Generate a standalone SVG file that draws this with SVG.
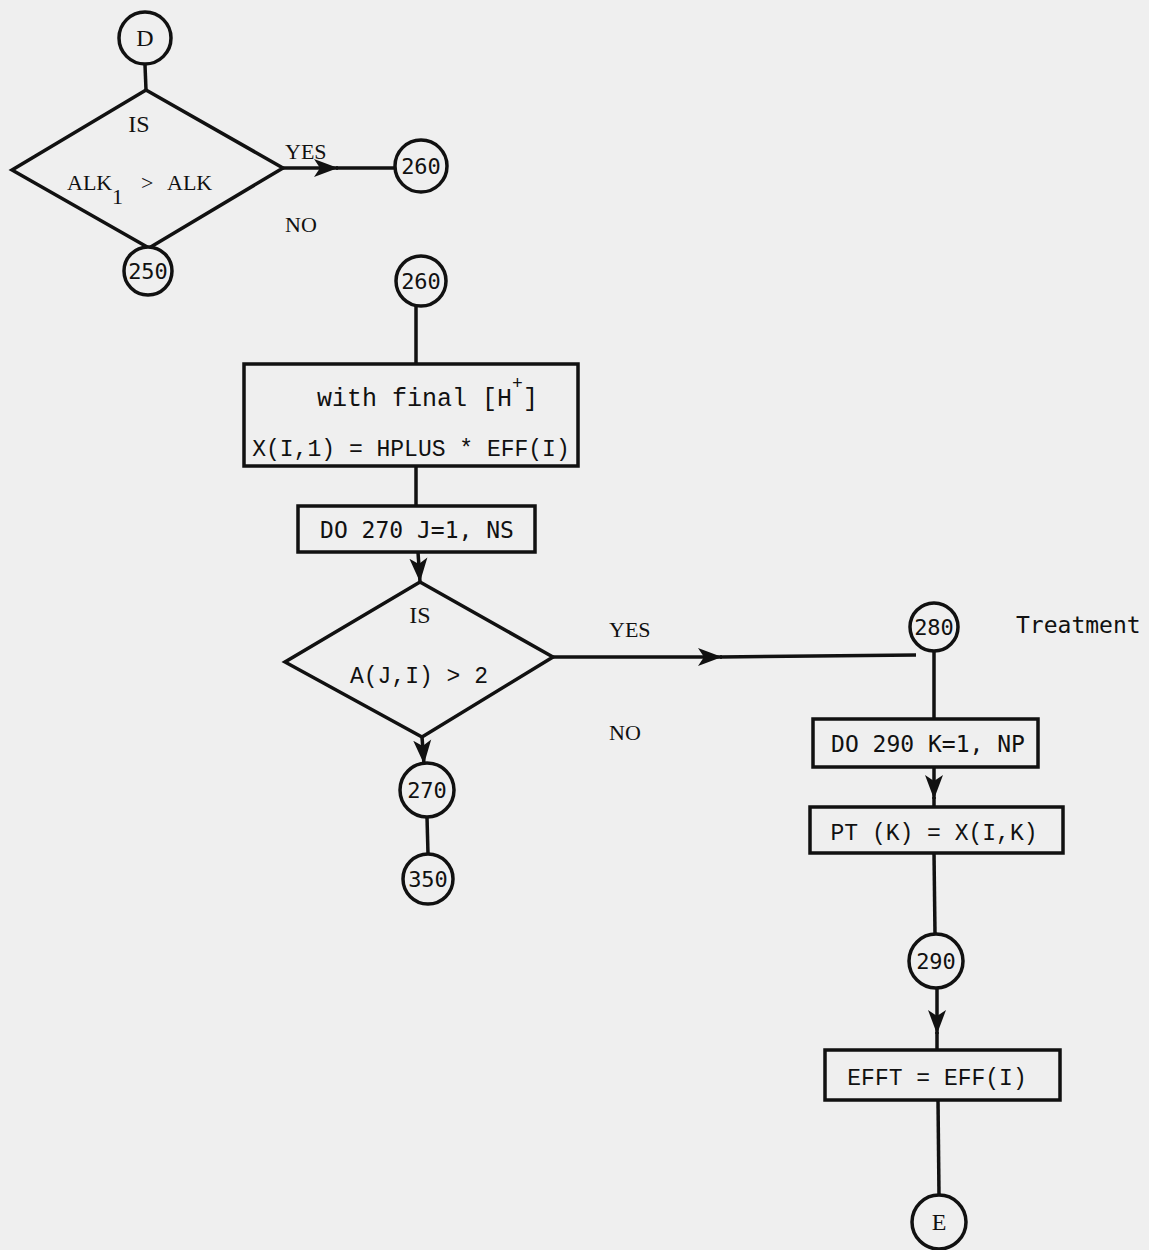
<svg xmlns="http://www.w3.org/2000/svg" width="1149" height="1250" viewBox="0 0 1149 1250">
<style>
.bg{fill:#efefef}
.s{fill:none;stroke:#111;stroke-width:3.5}
.n{fill:#efefef;stroke:#111;stroke-width:3.5}
.ser{font-family:"Liberation Serif","Times New Roman",serif;font-size:22px;fill:#111}
.mono{font-family:"Liberation Mono","Courier New",monospace;font-size:23px;fill:#111}
.sm{font-family:"DejaVu Sans Mono","Liberation Mono",monospace;font-size:23px;fill:#111}
.num{font-family:"DejaVu Sans Mono","Liberation Mono",monospace;font-size:22px;fill:#111;text-anchor:middle}
.c{text-anchor:middle}
</style>
<defs>
<marker id="ah" markerWidth="26" markerHeight="20" refX="24" refY="10" orient="auto" markerUnits="userSpaceOnUse">
<path d="M0,1 L24,10 L0,19 L6,10 Z" fill="#111"/>
</marker>
</defs>
<rect class="bg" x="0" y="0" width="1149" height="1250"/>
<g id="connectors">
<line class="s" x1="145" y1="65" x2="146" y2="90"/>
<line class="s" x1="283" y1="168" x2="338" y2="168" marker-end="url(#ah)"/>
<line class="s" x1="336" y1="168" x2="395" y2="168"/>
<line class="s" x1="416" y1="306" x2="416" y2="364"/>
<line class="s" x1="416" y1="466" x2="416" y2="506"/>
<line class="s" x1="418" y1="552" x2="420" y2="582" marker-end="url(#ah)"/>
<line class="s" x1="553" y1="657" x2="722" y2="657" marker-end="url(#ah)"/>
<line class="s" x1="720" y1="657" x2="916" y2="655"/>
<line class="s" x1="422" y1="737" x2="424" y2="764" marker-end="url(#ah)"/>
<line class="s" x1="427" y1="817" x2="428" y2="854"/>
<line class="s" x1="934" y1="651" x2="934" y2="719"/>
<line class="s" x1="934" y1="767" x2="934" y2="799" marker-end="url(#ah)"/>
<line class="s" x1="934" y1="797" x2="934" y2="807"/>
<line class="s" x1="934" y1="853" x2="935" y2="934"/>
<line class="s" x1="937" y1="988" x2="937" y2="1034" marker-end="url(#ah)"/>
<line class="s" x1="937" y1="1032" x2="937" y2="1050"/>
<line class="s" x1="938" y1="1100" x2="939" y2="1195"/>
</g>
<g id="nodeD"><circle class="n" cx="145" cy="38" r="26"/><text class="ser c" x="145" y="46" style="font-size:24px">D</text></g>
<g id="decision1">
<polygon class="n" points="146,90 283,168 149,248 12,170"/>
<text class="ser c" x="139" y="132" style="font-size:24px">IS</text>
<text class="ser" x="67" y="190">ALK</text>
<text class="ser" x="112" y="204">1</text>
<text class="ser" x="141" y="190">&gt;</text>
<text class="ser" x="167" y="190">ALK</text>
<text class="ser" x="285" y="159">YES</text>
<text class="ser" x="285" y="232">NO</text>
</g>
<g id="c260a"><circle class="n" cx="421" cy="166" r="26"/><text class="num" x="421" y="174">260</text></g>
<g id="c250"><circle class="n" cx="148" cy="271" r="24"/><text class="num" x="148" y="279">250</text></g>
<g id="c260b"><circle class="n" cx="421" cy="281" r="25"/><text class="num" x="421" y="289">260</text></g>
<g id="box1">
<rect class="n" x="244" y="364" width="334" height="102"/>
<text class="mono" x="317" y="406" style="font-size:25px">with final [H</text>
<text class="mono" x="512" y="389" style="font-size:18px">+</text>
<text class="mono" x="523" y="406" style="font-size:25px">]</text>
<text class="mono c" x="411" y="456">X(I,1) = HPLUS * EFF(I)</text>
</g>
<g id="box2">
<rect class="n" x="298" y="506" width="237" height="46"/>
<text class="sm c" x="417" y="538">DO 270 J=1, NS</text>
</g>
<g id="decision2">
<polygon class="n" points="420,582 553,657 422,737 285,662"/>
<text class="ser c" x="420" y="623" style="font-size:24px">IS</text>
<text class="mono c" x="419" y="683">A(J,I) &gt; 2</text>
<text class="ser" x="609" y="637">YES</text>
<text class="ser" x="609" y="740">NO</text>
</g>
<g id="c270"><circle class="n" cx="427" cy="790" r="27"/><text class="num" x="427" y="798">270</text></g>
<g id="c350"><circle class="n" cx="428" cy="879" r="25"/><text class="num" x="428" y="887">350</text></g>
<g id="c280">
<circle class="n" cx="934" cy="627" r="24"/><text class="num" x="934" y="635">280</text>
<text class="sm" x="1016" y="633">Treatment</text>
</g>
<g id="box3">
<rect class="n" x="813" y="719" width="225" height="48"/>
<text class="sm c" x="928" y="752">DO 290 K=1, NP</text>
</g>
<g id="box4">
<rect class="n" x="810" y="807" width="253" height="46"/>
<text class="mono c" x="934" y="840">PT (K) = X(I,K)</text>
</g>
<g id="c290"><circle class="n" cx="936" cy="961" r="27"/><text class="num" x="936" y="969">290</text></g>
<g id="box5">
<rect class="n" x="825" y="1050" width="235" height="50"/>
<text class="mono c" x="937" y="1085">EFFT = EFF(I)</text>
</g>
<g id="nodeE"><circle class="n" cx="939" cy="1222" r="27"/><text class="ser c" x="939" y="1230" style="font-size:24px">E</text></g>
</svg>
